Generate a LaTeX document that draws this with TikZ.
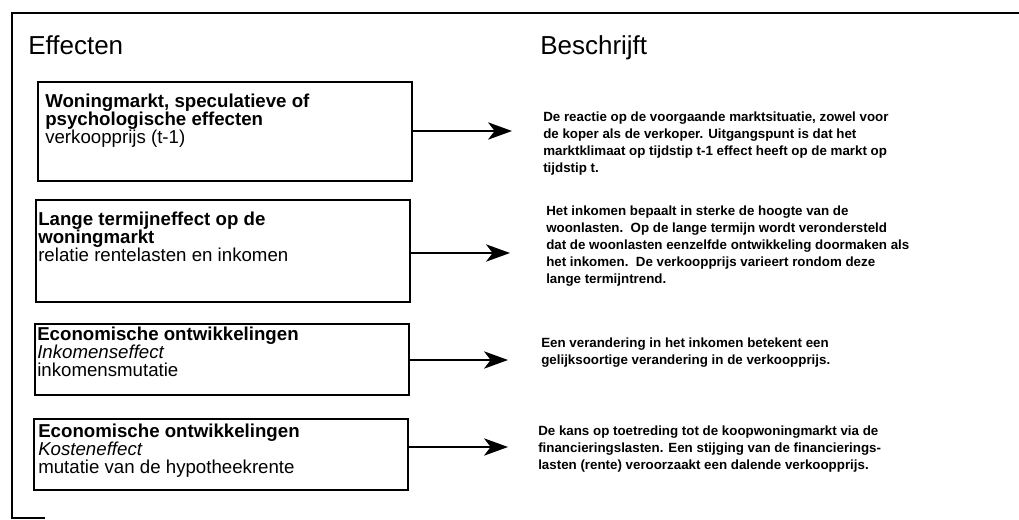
\documentclass[tikz,border=0pt]{standalone}
\usepackage{fontspec}
\setmainfont{Liberation Sans}
\usetikzlibrary{positioning,fit,arrows.meta}

\begin{document}
\begin{tikzpicture}[x=0.75pt, y=-0.75pt,
  box/.style={draw, line width=0.9pt, inner sep=0pt},
  btxt/.style={anchor=north west, align=left, inner sep=0pt, font=\fontsize{14}{13.4}\selectfont},
  dtxt/.style={anchor=north west, align=left, inner sep=0pt, font=\bfseries\fontsize{10}{12.75}\selectfont},
  head/.style={anchor=base west, inner sep=0pt, font=\fontsize{19.5}{22}\selectfont},
  arr/.style={-{Stealth[length=18pt, width=13pt, inset=5pt]}, line width=0.9pt}]
\useasboundingbox (0,0) rectangle (1019,520);
% frame
\draw[line width=1.6pt] (1019,13) -- (12,13) -- (12,518) -- (45,518);
\node[head] (effecten) at (28,55) {Effecten};
\node[head] (beschrijft) at (540,55) {Beschrijft};
% effect boxes
\node[box, fit={(38,82) (412,181)}] (b1) {};
\node[box, fit={(36,200) (410,302)}] (b2) {};
\node[box, fit={(35,324) (409,395)}] (b3) {};
\node[box, fit={(34,419) (408,490)}] (b4) {};
\node[btxt] (b1txt) at (45,94) {\textbf{Woningmarkt, speculatieve of}\\ \textbf{psychologische effecten}\\ verkoopprijs (t-1)};
\node[btxt] (b2txt) at (38,212) {\textbf{Lange termijneffect op de}\\ \textbf{woningmarkt}\\ relatie rentelasten en inkomen};
\node[btxt] (b3txt) at (37,327) {\textbf{Economische ontwikkelingen}\\ \textit{Inkomenseffect}\\ inkomensmutatie};
\node[btxt] (b4txt) at (38,424) {\textbf{Economische ontwikkelingen}\\ \textit{Kosteneffect}\\ mutatie van de hypotheekrente};
% descriptions
\node[dtxt] (d1) at (543,112) {De reactie op de voorgaande marktsituatie, zowel voor\\ de koper als de verkoper. Uitgangspunt is dat het\\ marktklimaat op tijdstip t-1 effect heeft op de markt op\\ tijdstip t.};
\node[dtxt] (d2) at (546,206) {Het inkomen bepaalt in sterke de hoogte van de\\ woonlasten.\ \ Op de lange termijn wordt verondersteld\\ dat de woonlasten eenzelfde ontwikkeling doormaken als\\ het inkomen.\ \ De verkoopprijs varieert rondom deze\\ lange termijntrend.};
\node[dtxt] (d3) at (541,338) {Een verandering in het inkomen betekent een\\ gelijksoortige verandering in de verkoopprijs.};
\node[dtxt] (d4) at (538,426) {De kans op toetreding tot de koopwoningmarkt via de\\ financieringslasten. Een stijging van de financierings-\\ lasten (rente) veroorzaakt een dalende verkoopprijs.};
% arrows
\coordinate (t1) at (512,131);
\coordinate (t2) at (510,253);
\coordinate (t3) at (508,360);
\coordinate (t4) at (508,447);
\draw[arr] (b1.east |- t1) -- (t1);
\draw[arr] (b2.east |- t2) -- (t2);
\draw[arr] (b3.east |- t3) -- (t3);
\draw[arr] (b4.east |- t4) -- (t4);
\end{tikzpicture}
\end{document}
